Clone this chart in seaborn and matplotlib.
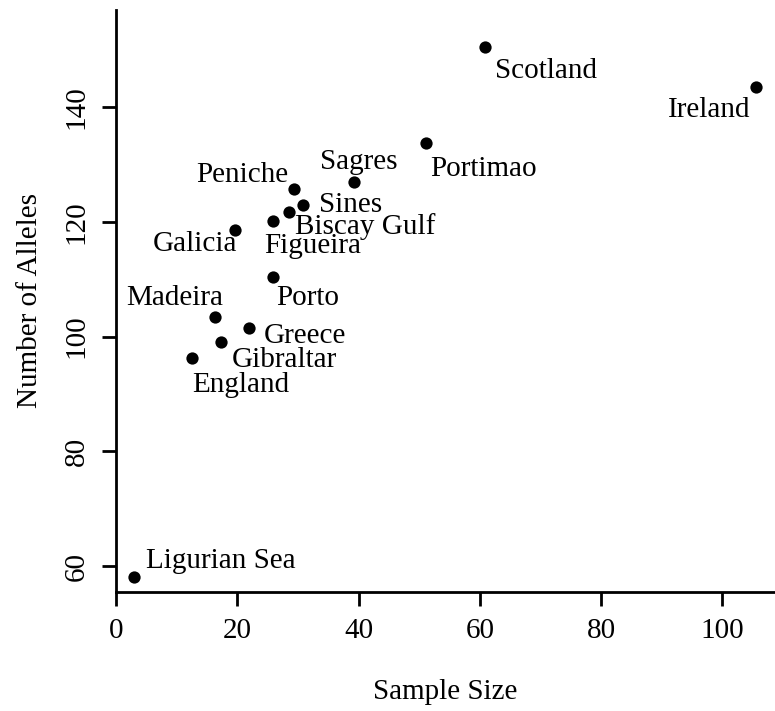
import numpy as np
import matplotlib
matplotlib.use('Agg')
import matplotlib.pyplot as plt
import pandas as pd
import seaborn as sns

# =========================
# DATA
# =========================
populations = [
    'Scotland', 'Ireland', 'Portimao', 'Sagres', 'Peniche', 'Sines',
    'Biscay Gulf', 'Figueira', 'Galicia', 'Porto', 'Madeira', 'Greece',
    'Gibraltar', 'England', 'Ligurian Sea'
]
sample_size = [60.9, 105.6, 51.2, 39.3, 29.4, 30.9, 28.5, 25.9, 19.6, 25.9,
               16.3, 21.9, 17.3, 12.5, 3.0]
n_alleles = [150.5, 143.5, 133.7, 126.9, 125.7, 122.9, 121.7, 120.1, 118.6,
             110.4, 103.4, 101.5, 99.1, 96.3, 58.1]

x_ticks = [0, 20, 40, 60, 80, 100]
y_ticks = [60, 80, 100, 120, 140]

df = pd.DataFrame({'pop': populations, 'n': sample_size, 'alleles': n_alleles})

# label placement: (dx, dy) in pixels from the point, horizontal alignment
label_pos = {
    'Scotland': (10, -31, 'left'),
    'Ireland': (-6, -30, 'right'),
    'Portimao': (4, -33, 'left'),
    'Sagres': (4, 13, 'center'),
    'Peniche': (-6, 7, 'right'),
    'Sines': (16, -7, 'left'),
    'Biscay Gulf': (6, -22, 'left'),
    'Figueira': (-9, -32, 'left'),
    'Galicia': (2, -21, 'right'),
    'Porto': (3, -28, 'left'),
    'Madeira': (8, 12, 'right'),
    'Greece': (15, -15, 'left'),
    'Gibraltar': (11, -25, 'left'),
    'England': (0, -34, 'left'),
    'Ligurian Sea': (12, 9, 'left'),
}

# =========================
# PLOTTING
# =========================
sns.set_theme(style='ticks')
plt.rcParams['font.family'] = ['Liberation Serif', 'DejaVu Serif']
plt.rcParams['axes.linewidth'] = 2
plt.rcParams['axes.edgecolor'] = 'black'
plt.rcParams['text.color'] = 'black'
plt.rcParams['axes.labelcolor'] = 'black'
plt.rcParams['xtick.color'] = 'black'
plt.rcParams['ytick.color'] = 'black'

fig = plt.figure(figsize=(7.75, 7.11), dpi=100)
ax = fig.add_axes([0.1497, 0.1674, 0.8503, 0.8186])

sns.scatterplot(data=df, x='n', y='alleles', color='black', s=78,
                edgecolor='black', linewidth=0, ax=ax, zorder=3)

for p, xv, yv in zip(populations, sample_size, n_alleles):
    dx, dy, ha = label_pos[p]
    ax.annotate(p, (xv, yv), xytext=(dx, dy), textcoords='offset pixels',
                ha=ha, va='baseline', fontsize=21, color='black')

ax.set_xlim(0, 108.7)
ax.set_ylim(55.5, 156.9)
ax.set_xticks(x_ticks)
ax.set_yticks(y_ticks)
ax.tick_params(axis='both', length=10, width=2, pad=9, labelsize=21,
               colors='black')
for lab in ax.get_yticklabels():
    lab.set_rotation(90)
    lab.set_va('center')

sns.despine(ax=ax)
ax.set_xlabel('Sample Size', fontsize=21, labelpad=25)
ax.set_ylabel('Number of Alleles', fontsize=21, labelpad=15)

fig.savefig('out.png', dpi=100, facecolor='white')
